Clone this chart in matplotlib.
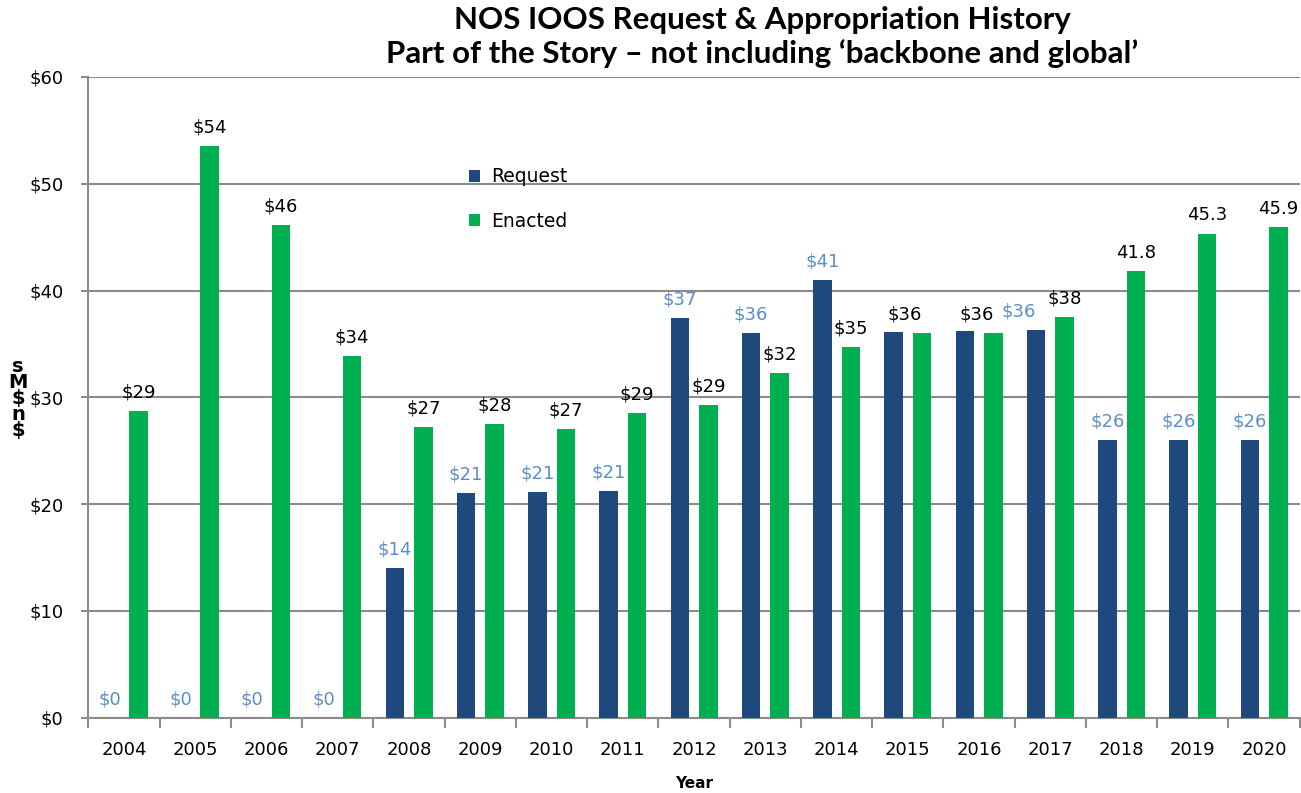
import numpy as np
import matplotlib.pyplot as plt

years = ['2004', '2005', '2006', '2007', '2008', '2009', '2010', '2011', '2012',
         '2013', '2014', '2015', '2016', '2017', '2018', '2019', '2020']
request = [0, 0, 0, 0, 14, 21, 21.1, 21.2, 37.4, 36, 41, 36.1, 36.2, 36.3, 26, 26, 26]
enacted = [28.7, 53.5, 46.1, 33.9, 27.2, 27.5, 27, 28.5, 29.3, 32.3, 34.7, 36, 36, 37.5,
           41.8, 45.3, 45.9]
# 2015 and 2016 request labels are hidden under the enacted ones in the original
request_labels = ['$0', '$0', '$0', '$0', '$14', '$21', '$21', '$21', '$37', '$36', '$41',
                  '', '', '$36', '$26', '$26', '$26']
enacted_labels = ['$29', '$54', '$46', '$34', '$27', '$28', '$27', '$29', '$29', '$32', '$35',
                  '$36', '$36', '$38', '41.8', '45.3', '45.9']

plt.rcParams['font.family'] = ['DejaVu Sans']

fig = plt.figure(figsize=(13.01, 7.93), dpi=100)
ax = fig.add_axes([0.068, 0.095, 0.931, 0.808])

x = np.arange(len(years))
w = 0.26
off = 0.2
c_req = '#1f497d'
c_ena = '#00b050'
ax.bar(x - off, request, w, color=c_req, label='Request', zorder=3)
ax.bar(x + off, enacted, w, color=c_ena, label='Enacted', zorder=3)

# labels Excel pushed sideways where they crowded each other
nudge_req = {'2017': -0.24}
nudge_ena = {'2015': -0.24, '2016': -0.24}

for i in range(len(years)):
    ax.text(x[i] - off + nudge_req.get(years[i], 0), request[i] + 0.9, request_labels[i],
            ha='center', va='bottom', fontsize=13, color='#5b8ec8', zorder=4)
    ax.text(x[i] + off + nudge_ena.get(years[i], 0), enacted[i] + 0.9, enacted_labels[i],
            ha='center', va='bottom', fontsize=13, color='black', zorder=4)

ax.set_xlim(-0.5, len(years) - 0.5)
ax.set_ylim(0, 60)
ax.set_yticks(range(0, 61, 10))
ax.set_yticklabels(['$' + str(v) for v in range(0, 61, 10)], fontsize=13)
ax.yaxis.grid(True, color='#8c8c8c', linewidth=1.5, zorder=0)
ax.tick_params(axis='y', length=5, width=1.5, color='#8c8c8c', pad=13)

ax.set_xticks(x)
ax.set_xticklabels(years, fontsize=13)
ax.set_xticks(np.arange(-0.5, len(years), 1), minor=True)
ax.tick_params(axis='x', which='major', length=0, pad=17)
ax.tick_params(axis='x', which='minor', length=7, width=1.5, color='#8c8c8c')

for s in ['top', 'right']:
    ax.spines[s].set_visible(False)
for s in ['left', 'bottom']:
    ax.spines[s].set_color('#8c8c8c')
    ax.spines[s].set_linewidth(1.5)

ax.legend(loc='upper left', bbox_to_anchor=(0.3, 0.885), frameon=False, fontsize=13.5,
          handlelength=0.6, handleheight=0.6, labelspacing=1.35, handletextpad=0.6)

ax.set_xlabel('Year', fontsize=11, fontweight='bold', labelpad=12)
fig.text(0.014, 0.498, 's\nM\n$\nn\n$', fontsize=14, fontweight='bold', ha='center',
         va='center', linespacing=0.8)

fig.suptitle("NOS IOOS Request & Appropriation History\n"
             "Part of the Story \u2013 not including \u2018backbone and global\u2019",
             x=0.586, y=0.993, fontsize=22.5, fontweight='bold', linespacing=1.25,
             family=['Lato', 'DejaVu Sans'])

fig.savefig('out.png', dpi=100)
